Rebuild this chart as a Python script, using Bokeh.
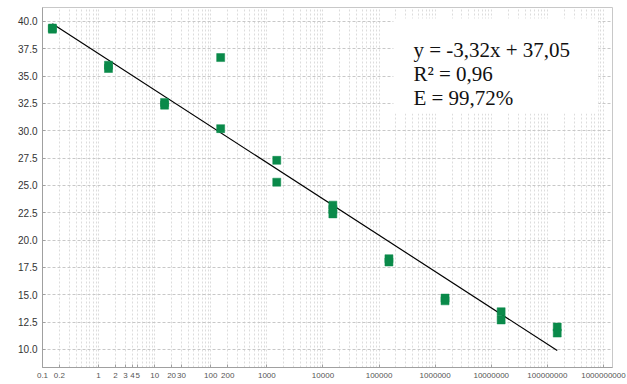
import math
from bokeh.plotting import figure
from bokeh.models import (Range1d, FixedTicker, CustomJSTickFormatter,
                          NumeralTickFormatter, BoxAnnotation, Label)
from bokeh.embed import file_html
from bokeh.resources import INLINE

# Standard curve: Ct vs. starting quantity (log scale)
quantity = [0.15, 0.15, 1.5, 1.5, 15, 15, 150, 150, 1500, 1500,
            15000, 15000, 15000, 150000, 150000, 1.5e6, 1.5e6,
            1.5e7, 1.5e7, 1.5e8, 1.5e8]
ct = [39.4, 39.3, 36.0, 35.7, 32.6, 32.35, 36.7, 30.2, 27.3, 25.3,
      23.2, 22.8, 22.4, 18.3, 18.0, 14.7, 14.45,
      13.45, 12.7, 12.05, 11.5]

# Fit reported on the chart: Ct = slope * log10(quantity) + intercept
slope = -3.32
intercept = 37.05
fit_lines = ["y = -3,32x + 37,05", "R\u00b2 = 0,96", "E = 99,72%"]

x_tick_labels = ["0.1", "0.2", "1", "2", "3", "4", "5", "10", "20", "30",
                 "100", "200", "1000", "10000", "100000", "1000000",
                 "10000000", "100000000", "1000000000"]
x_ticks = [float(s) for s in x_tick_labels]
y_ticks = [10.0, 12.5, 15.0, 17.5, 20.0, 22.5, 25.0, 27.5,
           30.0, 32.5, 35.0, 37.5, 40.0]

p = figure(width=627, height=384, x_axis_type="log",
           x_range=Range1d(0.1, 1.45e9), y_range=Range1d(8.35, 41.28),
           output_backend="svg", toolbar_location=None,
           min_border_left=42, min_border_right=15,
           min_border_top=7, min_border_bottom=17)
p.background_fill_color = "white"
p.border_fill_color = "white"
p.outline_line_color = "#c8c8c8"

# grid: every 1..9 step of each decade on x, every 2.5 on y
decade_lines = [m * 10.0 ** e for e in range(-1, 10) for m in range(1, 10)]
p.xgrid.ticker = FixedTicker(ticks=decade_lines)
p.xgrid.grid_line_color = "#dcdcdc"
p.xgrid.grid_line_dash = "2 2"
p.ygrid.ticker = FixedTicker(ticks=y_ticks)
p.ygrid.grid_line_color = "#c8c8c8"
p.ygrid.grid_line_dash = "3 2"

p.xaxis.ticker = FixedTicker(ticks=x_ticks, minor_ticks=[])
p.xaxis.formatter = CustomJSTickFormatter(
    args=dict(vals=x_ticks, labels=x_tick_labels),
    code="""
const i = vals.findIndex(v => Math.abs(v - tick) <= 1e-9 * Math.abs(v));
return i >= 0 ? labels[i] : '';
""")
p.yaxis.ticker = FixedTicker(ticks=y_ticks, minor_ticks=[])
p.yaxis.formatter = NumeralTickFormatter(format="0.0")

for ax in (p.xaxis, p.yaxis):
    ax.axis_line_color = "#a0a0a0"
    ax.major_tick_line_color = "#a0a0a0"
    ax.major_tick_out = 0
    ax.major_tick_in = 3
    ax.minor_tick_line_color = None
    ax.major_label_text_font = "Liberation Sans"
p.xaxis.major_label_text_font_size = "8px"
p.xaxis.major_label_text_color = "#555555"
p.xaxis.major_label_standoff = 5
p.yaxis.major_label_text_font_size = "10px"
p.yaxis.major_label_text_color = "#333333"
p.yaxis.major_label_standoff = 5

# regression line over the measured range
lx = [min(quantity), max(quantity)]
ly = [slope * math.log10(v) + intercept for v in lx]
p.line(lx, ly, line_color="black", line_width=1.2)

p.scatter(quantity, ct, marker="square", size=8,
          fill_color="#0a8a4a", line_color="#0a8a4a", line_width=0.5)

# white box holding the fit summary
p.add_layout(BoxAnnotation(left=1.8e5, right=8.1e8, bottom=31.58, top=40.27,
                           fill_color="white", fill_alpha=1.0,
                           line_color=None, level="overlay"))
for i, txt in enumerate(fit_lines):
    p.add_layout(Label(x=4.1e5, y=37.35 - i * 2.195, text=txt,
                       text_font="Liberation Serif", text_font_size="21px",
                       text_color="#111111", text_baseline="alphabetic",
                       level="overlay"))

open("out.html", "w").write(file_html(p, INLINE))
